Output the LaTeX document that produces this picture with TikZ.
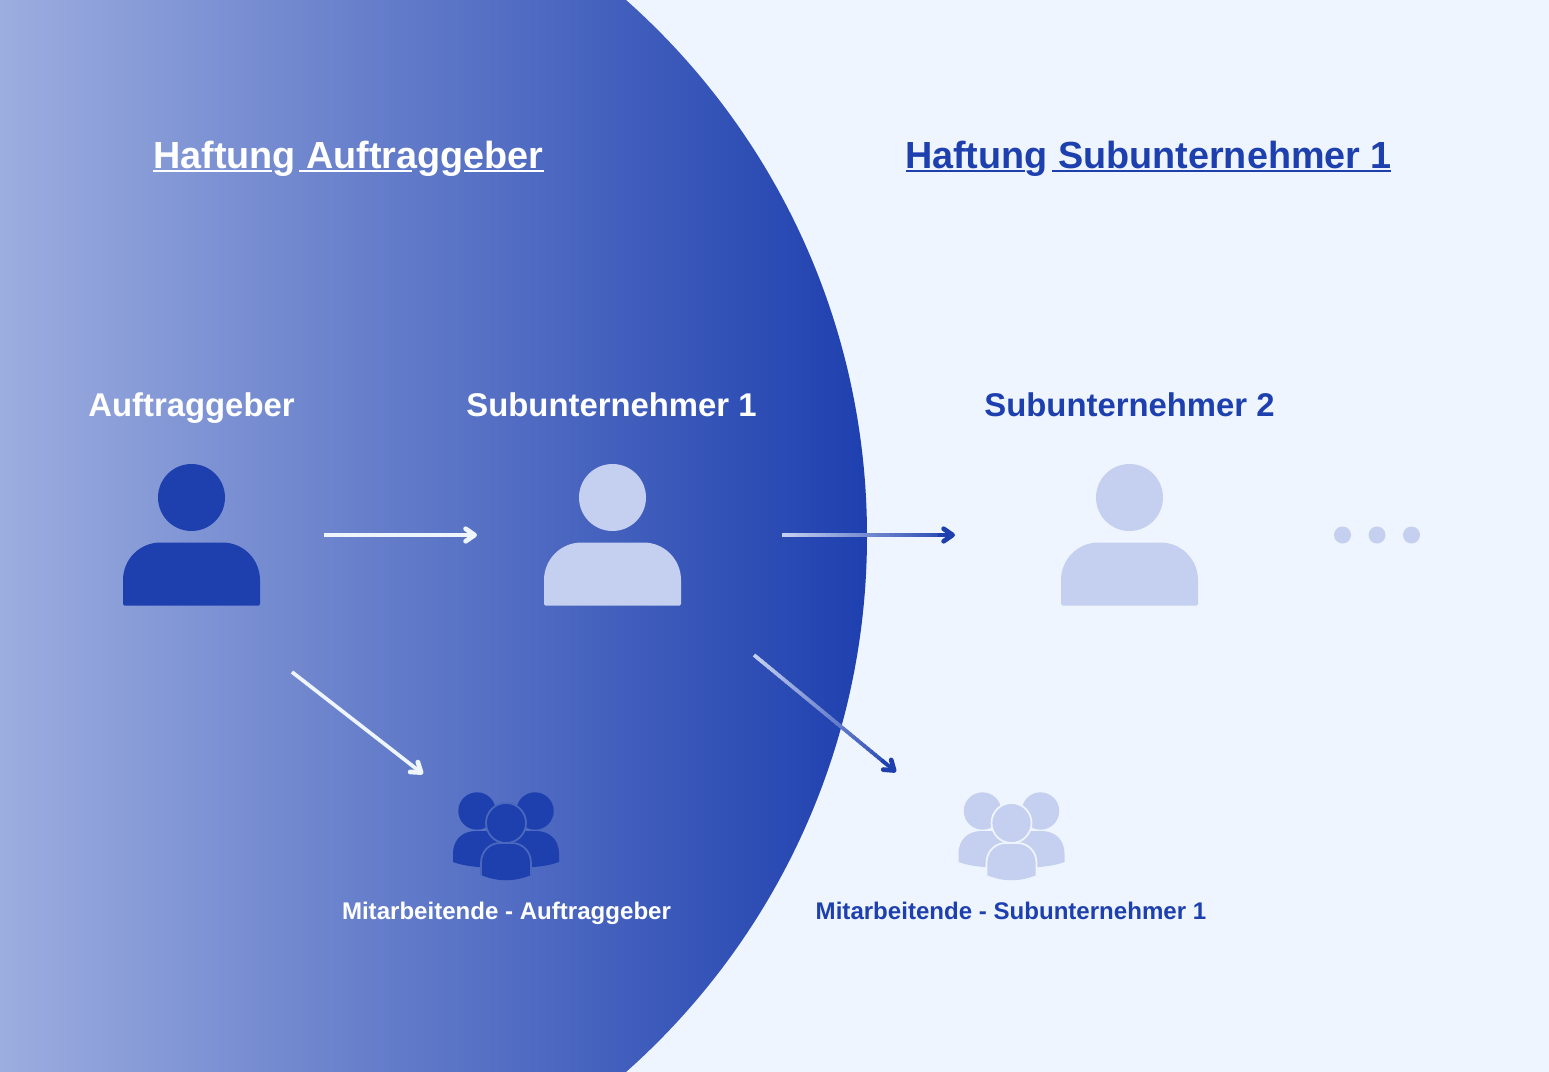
\documentclass[tikz,border=0pt]{standalone}
\usepackage{fontspec}
\usetikzlibrary{positioning,calc,arrows.meta}
\setmainfont{Liberation Sans}[BoldFont={Liberation Sans Bold}]
\definecolor{paleblue}{HTML}{EEF5FF}
\definecolor{darkblue}{HTML}{1E40AF}
\definecolor{midblue}{HTML}{9CADDF}
\definecolor{iconlight}{HTML}{C5D0F0}
\definecolor{ringdark}{HTML}{4A68BD}
\tikzset{
  bigtitle/.style={font=\fontsize{21.5}{26}\selectfont\bfseries, inner sep=0pt, anchor=base},
  rolename/.style={font=\fontsize{18.7}{23}\selectfont\bfseries, inner sep=0pt, anchor=base},
  staffname/.style={font=\fontsize{13.7}{17}\selectfont\bfseries, inner sep=0pt, anchor=base},
  titlerule/.style={line width=0.52mm},
  plainarrow/.style={line width=0.74mm, -{Straight Barb[length=1.8mm, width=2.5mm, round, line width=0.95mm]}},
  dotnode/.style={circle, fill=iconlight, inner sep=0pt, minimum size=3.4mm},
  person/.pic={
    \path[pic actions] (0,0) circle [radius=33.5];
    \path[pic actions] (-68.5,108) [rounded corners=0.3mm] -- (-68.5,80)
      [rounded corners=7.5mm] -- (-68.5,45) -- (68.5,45)
      [rounded corners=0.3mm] -- (68.5,108) -- cycle;
  },
  staff/.pic={
    \path[fill=#1] (-29,-12) circle [radius=18.7];
    \path[fill=#1] (29,-12) circle [radius=18.7];
    \path[fill=#1] (-53,39) -- (-53,31) .. controls (-53,15) and (-42,8) .. (-30,8)
      -- (0,8) -- (0,45) .. controls (-20,45) and (-40,44) .. (-53,39) -- cycle;
    \path[fill=#1] (53,39) -- (53,31) .. controls (53,15) and (42,8) .. (30,8)
      -- (0,8) -- (0,45) .. controls (20,45) and (40,44) .. (53,39) -- cycle;
    \path[fill=#1, pic actions] (0,0) circle [radius=20];
    \path[fill=#1] (-25,52) -- (-25,40) .. controls (-25,28) and (-16,20) .. (-6,20)
      -- (6,20) .. controls (16,20) and (25,28) .. (25,40) -- (25,52)
      .. controls (8,59) and (-8,59) .. (-25,52) -- cycle;
    \path[pic actions] (-25,52) -- (-25,40) .. controls (-25,28) and (-16,20) .. (-6,20)
      -- (6,20) .. controls (16,20) and (25,28) .. (25,40) -- (25,52);
  },
}
% arrow whose shaft runs from a light to a dark colour
\newcommand{\fadearrow}[2]{
  \foreach \i [evaluate=\i as \j using \i+1.3, evaluate=\i as \p using \i*2.5] in {0,...,36}
    \draw[line width=0.74mm, color=darkblue!\p!iconlight] ($(#1)!\i/40!(#2)$) -- ($(#1)!\j/40!(#2)$);
  \draw[plainarrow, color=darkblue] ($(#1)!0.9!(#2)$) -- (#2);
}

\begin{document}
\begin{tikzpicture}[x=0.02cm, y=-0.02cm]
\useasboundingbox (0,0) rectangle (1549,1072);
\fill[paleblue] (0,0) rectangle (1549,1072);
\begin{scope}
\clip (150.4,536) circle [radius=716.6];
\shade[left color=midblue, right color=darkblue] (0,0) rectangle (867.5,1072);
\end{scope}

\node [bigtitle, white] (title1) at (348.5,168) {Haftung Auftraggeber};
\node [bigtitle, darkblue] (title2) at (1148.5,168) {Haftung Subunternehmer 1};
% the rules stop around the descenders
\foreach \xa/\xb in {153/271.5, 299/411.5, 464/544}
  \draw[titlerule, white] (\xa,171) -- (\xb,171);
\foreach \xa/\xb in {906/1025, 1052/1391}
  \draw[titlerule, darkblue] (\xa,171) -- (\xb,171);

\node [rolename, white] (role1) at (191.5,416) {Auftraggeber};
\node [rolename, white] (role2) at (611.5,416) {Subunternehmer 1};
\node [rolename, darkblue] (role3) at (1129.5,416) {Subunternehmer 2};

\pic [fill=darkblue] at (191.5,497.5) {person};
\pic [fill=iconlight] at (612.5,497.5) {person};
\pic [fill=iconlight] at (1129.5,497.5) {person};

\node [dotnode] (dot1) at (1342.5,535) {};
\node [dotnode] (dot2) at (1377,535) {};
\node [dotnode] (dot3) at (1411.5,535) {};

\pic [draw=ringdark, line width=0.35mm] at (506,823) {staff=darkblue};
\pic [draw=paleblue, line width=0.35mm] at (1011.5,823) {staff=iconlight};

\node [staffname, white] (staff1) at (506.5,919) {Mitarbeitende - Auftraggeber};
\node [staffname, darkblue] (staff2) at (1011,919) {Mitarbeitende - Subunternehmer 1};

\coordinate (a1) at (324,535);
\coordinate (a2) at (477,535);
\coordinate (b1) at (782,535);
\coordinate (b2) at (955,535);
\coordinate (c1) at (292,672);
\coordinate (c2) at (423,774);
\coordinate (d1) at (754,655);
\coordinate (d2) at (896,772);

\draw[plainarrow, paleblue] (a1) -- (a2);
\draw[plainarrow, paleblue] (c1) -- (c2);
\fadearrow{b1}{b2}
\fadearrow{d1}{d2}
\end{tikzpicture}
\end{document}
